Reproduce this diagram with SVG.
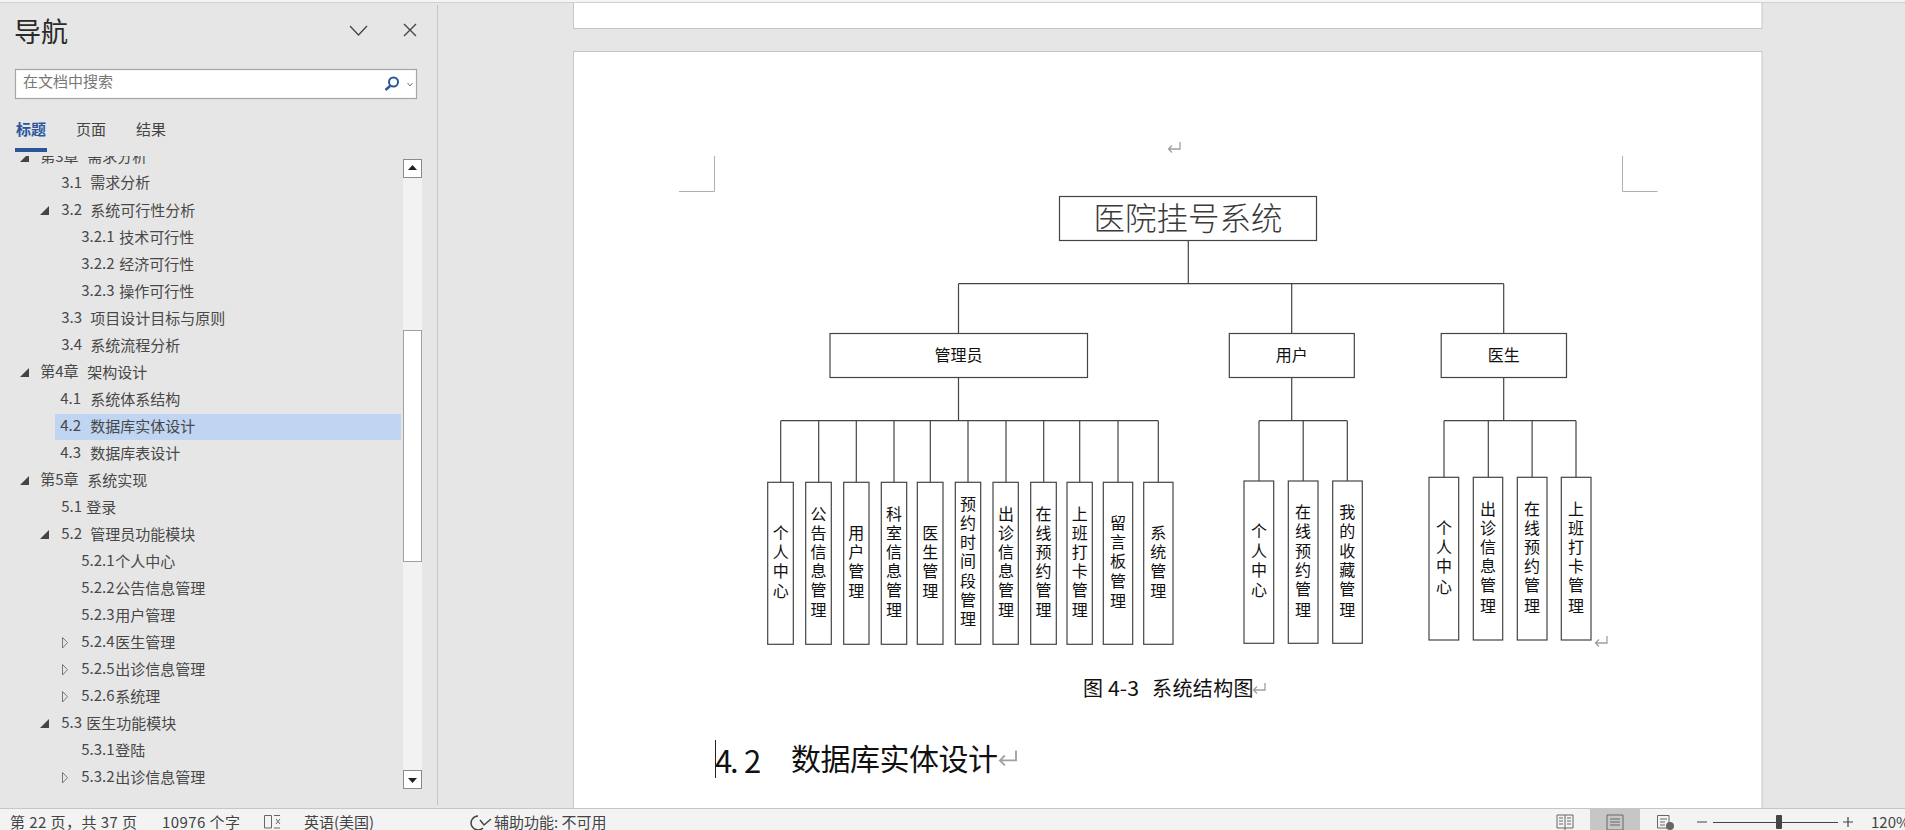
<svg xmlns="http://www.w3.org/2000/svg" width="1905" height="830" viewBox="0 0 1905 830">
<style>
text{font-family:"Noto Sans CJK SC","Liberation Sans",sans-serif}
.n{font-size:15px;fill:#484848;dominant-baseline:central;transform:translate(-0.8px,-1.8px)}
.box{fill:#fff;stroke:#444;stroke-width:1.2}
.c{fill:none;stroke:#444;stroke-width:1.2}
.l{font-size:16px;fill:#111;text-anchor:middle;dominant-baseline:central;transform:translateY(-1.5px)}
.s{font-size:15px;fill:#444;dominant-baseline:central}
.ico{fill:none;stroke:#666;stroke-width:1}
.tri{fill:#444}
.otri{fill:none;stroke:#777;stroke-width:1}
.crop{fill:none;stroke:#b0b0b0;stroke-width:1}
.ret{fill:none;stroke:#a0a0a0;stroke-width:1.3}
</style>
<defs>
<clipPath id="listclip"><rect x="0" y="156" width="403" height="640"/></clipPath>
<path id="rm" d="M5 -6V1H-6M-3 -2.5L-6.500 1L-3 4.500" class="ret"/>
</defs>
<rect width="1905" height="830" fill="#e6e6e6"/>
<g id="pages">
<rect x="573.500" y="2" width="1188.500" height="26.500" fill="#fff" stroke="#c6c6c6"/>
<rect x="573.500" y="51.500" width="1188.500" height="780" fill="#fff" stroke="#c6c6c6"/>
</g>
<rect width="1905" height="2" fill="#f4f4f4"/>
<rect y="2" width="1905" height="1" fill="#d0d0d0"/>
<g id="nav">
<rect x="437" y="5" width="1" height="800" fill="#c6c6c6"/>
<text x="14" y="30.500" font-size="27" fill="#2a2a2a" dominant-baseline="central">导航</text>
<path d="M350 26L358.500 35L367 26M404 24L416 36M416 24L404 36" fill="none" stroke="#444" stroke-width="1.300"/>
<rect x="15.500" y="69.500" width="401" height="29" fill="#fff" stroke="#a6a6a6" stroke-width="1.200"/>
<text x="23" y="80.500" font-size="15" fill="#777" dominant-baseline="central">在文档中搜索</text>
<circle cx="393.500" cy="82" r="4.500" fill="none" stroke="#2b579a" stroke-width="2"/>
<path d="M390 86L385.500 90" stroke="#2b579a" stroke-width="2.500"/>
<path d="M407.500 83L410 86L412.500 83" fill="none" stroke="#777"/>
<text x="16" y="128.500" font-size="15" font-weight="700" fill="#2b579a" dominant-baseline="central">标题</text>
<text x="76" y="128.500" class="s">页面</text>
<text x="136" y="128.500" class="s">结果</text>
<rect x="15" y="148" width="32" height="4" fill="#2b579a"/>
<rect x="55" y="414" width="346" height="26" fill="#c0d5f2"/>
<g clip-path="url(#listclip)">
<path class="tri" d="M20 162L29 162L29 153Z"/>
<text class="n" x="41" y="157">第3章<tspan x="88">需求分析</tspan></text>
</g>
<text class="n" x="62" y="183">3.1<tspan x="91">需求分析</tspan></text>
<path class="tri" d="M40 215L49 215L49 206Z"/><text class="n" x="62" y="210.500">3.2<tspan x="91">系统可行性分析</tspan></text>
<text class="n" x="82" y="237.500">3.2.1<tspan x="120">技术可行性</tspan></text>
<text class="n" x="82" y="264.500">3.2.2<tspan x="120">经济可行性</tspan></text>
<text class="n" x="82" y="291.500">3.2.3<tspan x="120">操作可行性</tspan></text>
<text class="n" x="62" y="318.500">3.3<tspan x="91">项目设计目标与原则</tspan></text>
<text class="n" x="62" y="345.500">3.4<tspan x="91">系统流程分析</tspan></text>
<path class="tri" d="M20 377L29 377L29 368Z"/><text class="n" x="41" y="372.500">第4章<tspan x="88">架构设计</tspan></text>
<text class="n" x="61" y="399.500">4.1<tspan x="91">系统体系结构</tspan></text>
<text class="n" x="61" y="426.500">4.2<tspan x="91">数据库实体设计</tspan></text>
<text class="n" x="61" y="453.500">4.3<tspan x="91">数据库表设计</tspan></text>
<path class="tri" d="M20 485L29 485L29 476Z"/><text class="n" x="41" y="480.500">第5章<tspan x="88">系统实现</tspan></text>
<text class="n" x="62" y="507.500">5.1<tspan x="87">登录</tspan></text>
<path class="tri" d="M40 539L49 539L49 530Z"/><text class="n" x="62" y="534.500">5.2<tspan x="91">管理员功能模块</tspan></text>
<text class="n" x="82" y="561.500">5.2.1<tspan x="116">个人中心</tspan></text>
<text class="n" x="82" y="588.500">5.2.2<tspan x="116">公告信息管理</tspan></text>
<text class="n" x="82" y="615.500">5.2.3<tspan x="116">用户管理</tspan></text>
<path class="otri" d="M62.500 637.500V648L67.500 642.700Z"/><text class="n" x="82" y="642.500">5.2.4<tspan x="116">医生管理</tspan></text>
<path class="otri" d="M62.500 664.500V675L67.500 669.700Z"/><text class="n" x="82" y="669.500">5.2.5<tspan x="116">出诊信息管理</tspan></text>
<path class="otri" d="M62.500 691.500V702L67.500 696.700Z"/><text class="n" x="82" y="696.500">5.2.6<tspan x="116">系统理</tspan></text>
<path class="tri" d="M40 728L49 728L49 719Z"/><text class="n" x="62" y="723.500">5.3<tspan x="87">医生功能模块</tspan></text>
<text class="n" x="82" y="750.500">5.3.1<tspan x="116">登陆</tspan></text>
<path class="otri" d="M62.500 772.500V783L67.500 777.700Z"/><text class="n" x="82" y="777.500">5.3.2<tspan x="116">出诊信息管理</tspan></text>
<rect x="403" y="159" width="19" height="630" fill="#f2f2f2"/>
<rect x="403.500" y="159.500" width="18" height="18" fill="#fff" stroke="#8a8a8a"/>
<path d="M408 170L417 170L412.500 165Z" fill="#222"/>
<rect x="403.500" y="330.500" width="18" height="231" fill="#fff" stroke="#a0a0a0"/>
<rect x="403.500" y="770.500" width="18" height="18" fill="#fff" stroke="#8a8a8a"/>
<path d="M408 778L417 778L412.500 783Z" fill="#222"/>
</g>
<g id="marks">
<path class="crop" d="M679 191.500H714.500V156M1622.500 156V191.500H1657.500"/>
<use href="#rm" x="1175" y="148"/>
<use href="#rm" x="1602" y="642"/>
<use href="#rm" x="1260" y="689"/>
<use href="#rm" transform="translate(1009 759) scale(1.4)"/>
</g>
<g id="connectors">
<path class="c" d="M1188.300 240.300V283.700M958.500 283.700H1503.700M958.500 283.700V333.300M1291.700 283.700V333.300M1503.700 283.700V333.300"/>
<path class="c" d="M958.500 377.700V420.700M780.700 420.700H1158.300M780.700 420.700V482.300M818.700 420.700V482.300M856.300 420.700V482.300M894 420.700V482.300M930.300 420.700V482.300M968 420.700V482.300M1006 420.700V482.300M1043.700 420.700V482.300M1079.700 420.700V482.300M1118 420.700V482.300M1158.300 420.700V482.300"/>
<path class="c" d="M1291.700 377.700V420.700M1259 420.700H1347.300M1259 420.700V481M1303.200 420.700V481M1347.300 420.700V481"/>
<path class="c" d="M1503.700 377.700V420.700M1444 420.700H1576M1444 420.700V477.300M1488.300 420.700V477.300M1532.100 420.700V477.300M1576 420.700V477.300"/>
</g>
<g id="root"><rect class="box" x="1059.500" y="196.500" width="257" height="44"/><text x="1188" y="216" font-size="31.500" font-weight="300" fill="#3a3a3a" text-anchor="middle" dominant-baseline="central">医院挂号系统</text></g>
<g id="admin"><rect class="box" x="830" y="333.500" width="257.500" height="44"/><text class="l" x="958.500" y="355.500">管理员</text></g>
<g id="user"><rect class="box" x="1229.300" y="333.500" width="125" height="44"/><text class="l" x="1291.700" y="355.500">用户</text></g>
<g id="doctor"><rect class="box" x="1441.200" y="333.500" width="125.300" height="44"/><text class="l" x="1503.700" y="355.500">医生</text></g>
<g id="a1"><rect class="box" x="767.700" y="482.300" width="25.600" height="162"/><text class="l" x="780.700 780.700 780.700 780.700" y="533 552 571.500 591">个人中心</text></g>
<g id="a2"><rect class="box" x="805.700" y="482.300" width="25.600" height="162"/><text class="l" x="818.500 818.500 818.500 818.500 818.500 818.500" y="514 533 552 571 590 610">公告信息管理</text></g>
<g id="a3"><rect class="box" x="843.700" y="482.300" width="25.300" height="162"/><text class="l" x="856.300 856.300 856.300 856.300" y="533 552 571 591">用户管理</text></g>
<g id="a4"><rect class="box" x="881.300" y="482.300" width="25.400" height="162"/><text class="l" x="894 894 894 894 894 894" y="514 533 552 571 590 610">科室信息管理</text></g>
<g id="a5"><rect class="box" x="917.300" y="482.300" width="25.700" height="162"/><text class="l" x="930.300 930.300 930.300 930.300" y="533 552 571 591">医生管理</text></g>
<g id="a6"><rect class="box" x="955.300" y="482.300" width="25.400" height="162"/><text class="l" x="968 968 968 968 968 968 968" y="504.500 523.500 542.500 561.500 581 600 619.500">预约时间段管理</text></g>
<g id="a7"><rect class="box" x="993" y="482.300" width="25.300" height="162"/><text class="l" x="1006 1006 1006 1006 1006 1006" y="514 533 552 571 590 610">出诊信息管理</text></g>
<g id="a8"><rect class="box" x="1030.700" y="482.300" width="25.600" height="162"/><text class="l" x="1043.500 1043.500 1043.500 1043.500 1043.500 1043.500" y="514 533 552 571 590 610">在线预约管理</text></g>
<g id="a9"><rect class="box" x="1067" y="482.300" width="25.300" height="162"/><text class="l" x="1079.700 1079.700 1079.700 1079.700 1079.700 1079.700" y="514 533 552 571 590 610">上班打卡管理</text></g>
<g id="a10"><rect class="box" x="1103.300" y="482.300" width="29.400" height="162"/><text class="l" x="1118 1118 1118 1118 1118" y="523.500 542.500 561.500 581 601">留言板管理</text></g>
<g id="a11"><rect class="box" x="1143.700" y="482.300" width="29.300" height="162"/><text class="l" x="1158.300 1158.300 1158.300 1158.300" y="533 552 571 591">系统管理</text></g>
<g id="u1"><rect class="box" x="1244" y="481" width="29.700" height="162.300"/><text class="l" x="1259 1259 1259 1259" y="531.500 551 570 590.500">个人中心</text></g>
<g id="u2"><rect class="box" x="1288.300" y="481" width="29.700" height="162.300"/><text class="l" x="1303 1303 1303 1303 1303 1303" y="512.500 531.500 551 570 589 610">在线预约管理</text></g>
<g id="u3"><rect class="box" x="1332.700" y="481" width="29.600" height="162.300"/><text class="l" x="1347.300 1347.300 1347.300 1347.300 1347.300 1347.300" y="512.500 531.500 551 570 589 610">我的收藏管理</text></g>
<g id="d1"><rect class="box" x="1429" y="477.300" width="29.700" height="162.700"/><text class="l" x="1444 1444 1444 1444" y="528.500 547.500 566.500 587">个人中心</text></g>
<g id="d2"><rect class="box" x="1473.300" y="477.300" width="29.400" height="162.700"/><text class="l" x="1488 1488 1488 1488 1488 1488" y="509.500 528.500 547.500 566.500 585.500 606">出诊信息管理</text></g>
<g id="d3"><rect class="box" x="1517.300" y="477.300" width="29.700" height="162.700"/><text class="l" x="1532 1532 1532 1532 1532 1532" y="509.500 528.500 547.500 566.500 585.500 606">在线预约管理</text></g>
<g id="d4"><rect class="box" x="1561.300" y="477.300" width="29.700" height="162.700"/><text class="l" x="1576 1576 1576 1576 1576 1576" y="509.500 528.500 547.500 566.500 585.500 606">上班打卡管理</text></g>
<g id="doc-text">
<text x="1083" y="687.500" font-size="20" fill="#111" dominant-baseline="central">图</text>
<text x="1108" y="687.500" font-size="20" fill="#111" dominant-baseline="central" font-family="Liberation Mono,monospace" textLength="31" lengthAdjust="spacingAndGlyphs">4-3</text>
<text x="1152" y="687.500" font-size="20" fill="#111" dominant-baseline="central" letter-spacing="0.400">系统结构图</text>
<text x="715 730 744" y="759" font-size="31" fill="#111" dominant-baseline="central" font-family="Liberation Sans,sans-serif">4.2</text>
<text x="791" y="757" font-size="30" fill="#111" dominant-baseline="central" letter-spacing="-0.500">数据库实体设计</text>
<rect x="715" y="740" width="1" height="38" fill="#222"/>
</g>
<g id="status">
<rect y="808" width="1905" height="22" fill="#f3f3f3"/>
<rect y="808" width="1905" height="1" fill="#c6c6c6"/>
<text class="s" x="10" y="821" textLength="127">第 22 页，共 37 页</text>
<text class="s" x="162" y="821" textLength="78">10976 个字</text>
<path class="ico" d="M264.500 815.500H271.500V828H264.500ZM274 815.500H280M274 828H280"/>
<path d="M276 819L280 824M280 819L276 824" stroke="#666" fill="none"/>
<text class="s" x="304" y="821">英语(美国)</text>
<path d="M478 816A7 7 0 1 0 483 828M480 820L484 825L491 819" fill="none" stroke="#444" stroke-width="1.500"/>
<text class="s" x="494" y="821">辅助功能: 不可用</text>
<rect x="1590" y="809" width="50" height="21" fill="#c6c6c6"/>
<path class="ico" d="M1557 815H1573V828H1557ZM1565 815V830M1559 818H1563M1559 821H1563M1559 824H1563M1567 818H1571M1567 821H1571M1567 824H1571"/>
<path d="M1607 815H1623V830H1607ZM1610 819H1620M1610 822H1620M1610 825H1620" fill="none" stroke="#666"/>
<path class="ico" d="M1657.500 815.500H1669V828H1657.500ZM1660 819H1667M1660 822H1665M1660 825H1665"/>
<circle cx="1670" cy="826" r="4" fill="#666"/>
<path d="M1697 822H1707M1843 822H1853M1848 817V827" stroke="#444" stroke-width="1.200"/>
<path d="M1713 822.500H1838" stroke="#444"/>
<rect x="1776" y="815" width="6" height="14" rx="1" fill="#444"/>
<text class="s" x="1871" y="821">120%</text>
</g>
</svg>
